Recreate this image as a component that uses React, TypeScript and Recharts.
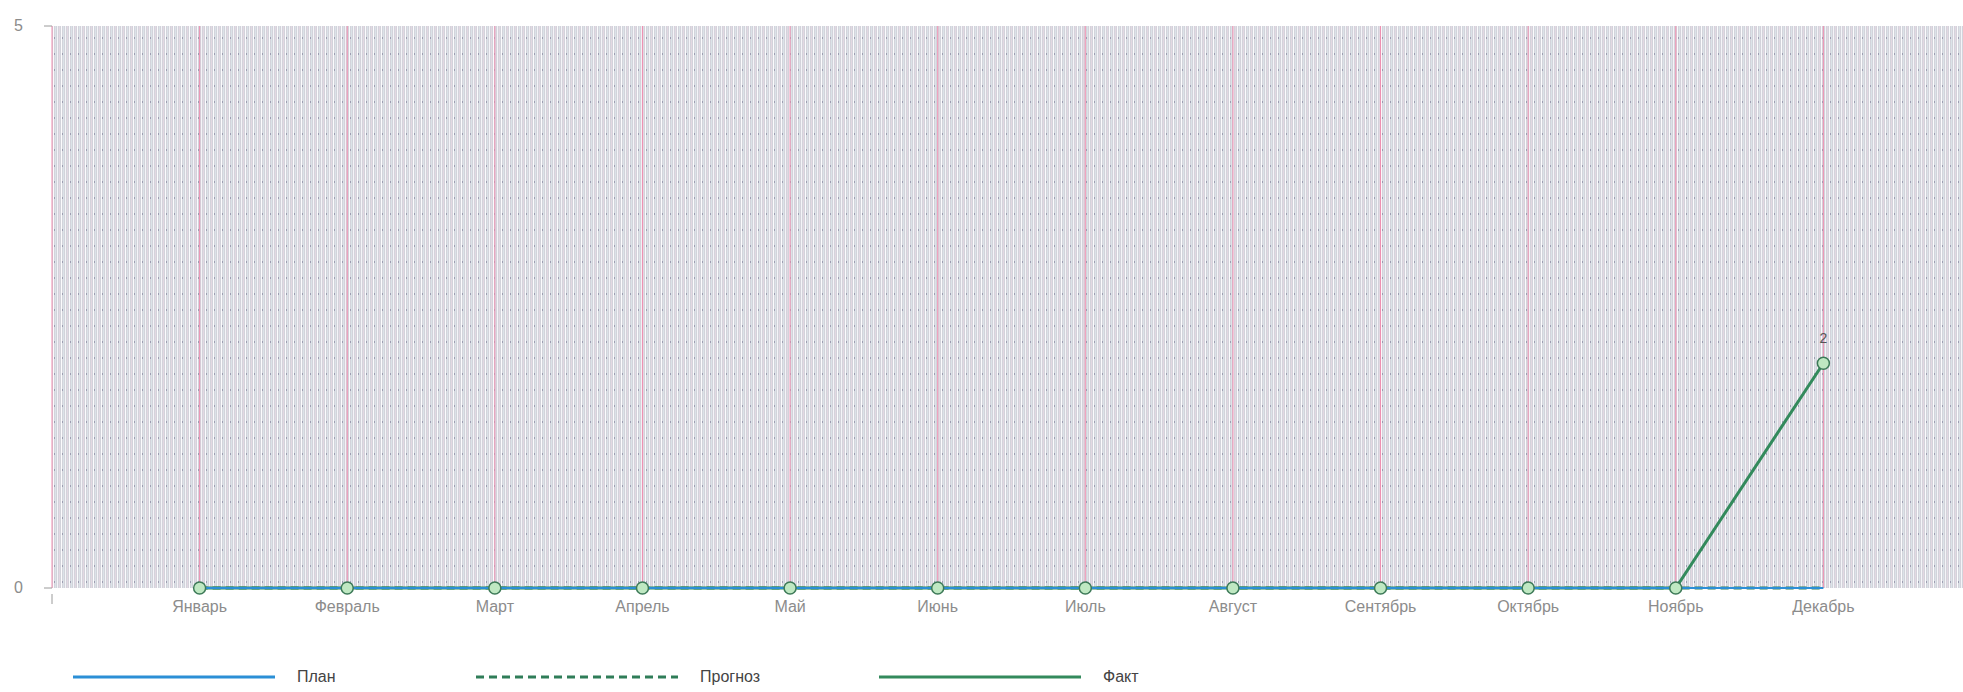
import React from "react";
import { LineChart, Line, XAxis, YAxis, CartesianGrid, LabelList } from "recharts";

const months = ["Январь", "Февраль", "Март", "Апрель", "Май", "Июнь", "Июль", "Август", "Сентябрь", "Октябрь", "Ноябрь", "Декабрь"];
const planValues = [0, 0, 0, 0, 0, 0, 0, 0, 0, 0, 0, 0];
const forecastValues = [0, 0, 0, 0, 0, 0, 0, 0, 0, 0, 0, 0];
const factValues = [0, 0, 0, 0, 0, 0, 0, 0, 0, 0, 0, 2];
const yTicks = [0, 5];

const series = [
  { key: "plan", name: "План", color: "#2b8fd6", dash: undefined as string | undefined, width: 2 },
  { key: "forecast", name: "Прогноз", color: "#2f7d58", dash: "8 5", width: 3 },
  { key: "fact", name: "Факт", color: "#338a5c", dash: undefined as string | undefined, width: 3 },
];
// draw order: forecast, fact, then plan on top along the zero line
const drawOrder = ["forecast", "fact", "plan"];

const data = months.map((m, i) => ({
  idx: i + 1,
  month: m,
  plan: planValues[i],
  forecast: forecastValues[i],
  fact: factValues[i],
}));

const FONT = "'Liberation Sans', Arial, sans-serif";

function XTick(props: any) {
  const { x, y, payload } = props;
  if (payload.value === 0) {
    return <line x1={x} y1={y - 2} x2={x} y2={y + 8} stroke="#9a9a9a" strokeWidth={1} />;
  }
  return (
    <text x={x} y={y + 16} textAnchor="middle" fill="#8c8c8c" fontSize={16} fontFamily={FONT}>
      {months[payload.value - 1]}
    </text>
  );
}

function YTick(props: any) {
  const { y, payload } = props;
  return (
    <g>
      <line x1={44} y1={y} x2={52} y2={y} stroke="#9a9a9a" strokeWidth={1} />
      <text x={14} y={y + 5} fill="#8c8c8c" fontSize={16} fontFamily={FONT}>
        {payload.value}
      </text>
    </g>
  );
}

function FactLabel(props: any) {
  const { x, y, value } = props;
  if (!value) return null;
  return (
    <text x={x} y={y - 20} textAnchor="middle" fill="#555" fontSize={14} fontFamily={FONT}>
      {value}
    </text>
  );
}

export default function App() {
  const ordered = drawOrder.map((k) => series.find((s) => s.key === k)!);
  return (
    <div style={{ position: "absolute", left: 0, top: 0, width: 1963, height: 692, background: "#fff" }}>
      <LineChart width={1963} height={692} data={data} margin={{ top: 26, right: -8, bottom: 74, left: 0 }}>
        <defs>
          <pattern id="stripes" x="0" y="0" width="8" height="16" patternUnits="userSpaceOnUse">
            <rect x="0" y="0" width="8" height="16" fill="#d3d3db" />
            <rect x="1" y="0" width="1" height="16" fill="#f4f4f8" />
            <rect x="3" y="0" width="1" height="16" fill="#e3d8e2" />
            <rect x="5" y="0" width="1" height="16" fill="#fbfbfd" />
            <rect x="7" y="0" width="1" height="16" fill="#dbe3e8" />
            <rect x="6" y="5" width="1" height="2" fill="#9e9eb2" />
          </pattern>
        </defs>
        <CartesianGrid horizontal={false} vertical={true} stroke="#ef8fb0" strokeWidth={1} fill="url(#stripes)" fillOpacity={1} />
        <XAxis
          dataKey="idx"
          type="number"
          domain={[0, 13]}
          ticks={[0, 1, 2, 3, 4, 5, 6, 7, 8, 9, 10, 11, 12]}
          interval={0}
          tick={<XTick />}
          tickLine={false}
          axisLine={false}
          height={30}
        />
        <YAxis domain={[0, 5]} ticks={yTicks} tick={<YTick />} tickLine={false} axisLine={false} width={52} />
        {ordered.map((s) => (
          <Line
            key={s.key}
            dataKey={s.key}
            name={s.name}
            type="linear"
            stroke={s.color}
            strokeWidth={s.width}
            strokeDasharray={s.dash}
            dot={s.key === "fact" ? { r: 6, fill: "#bfe8c2", stroke: "#3d7a58", strokeWidth: 1.5 } : false}
            activeDot={false}
            isAnimationActive={false}
          >
            {s.key === "fact" && <LabelList dataKey="fact" content={<FactLabel />} />}
          </Line>
        ))}
      </LineChart>
      <div style={{ position: "absolute", left: 73, top: 668, display: "flex", fontFamily: FONT, fontSize: 16, color: "#444" }}>
        {series.map((s) => (
          <div key={s.key} style={{ display: "flex", alignItems: "center", width: 403 }}>
            <svg width={202} height={12}>
              <line x1={0} y1={6} x2={202} y2={6} stroke={s.color} strokeWidth={3} strokeDasharray={s.dash} />
            </svg>
            <span style={{ marginLeft: 22 }}>{s.name}</span>
          </div>
        ))}
      </div>
    </div>
  );
}
